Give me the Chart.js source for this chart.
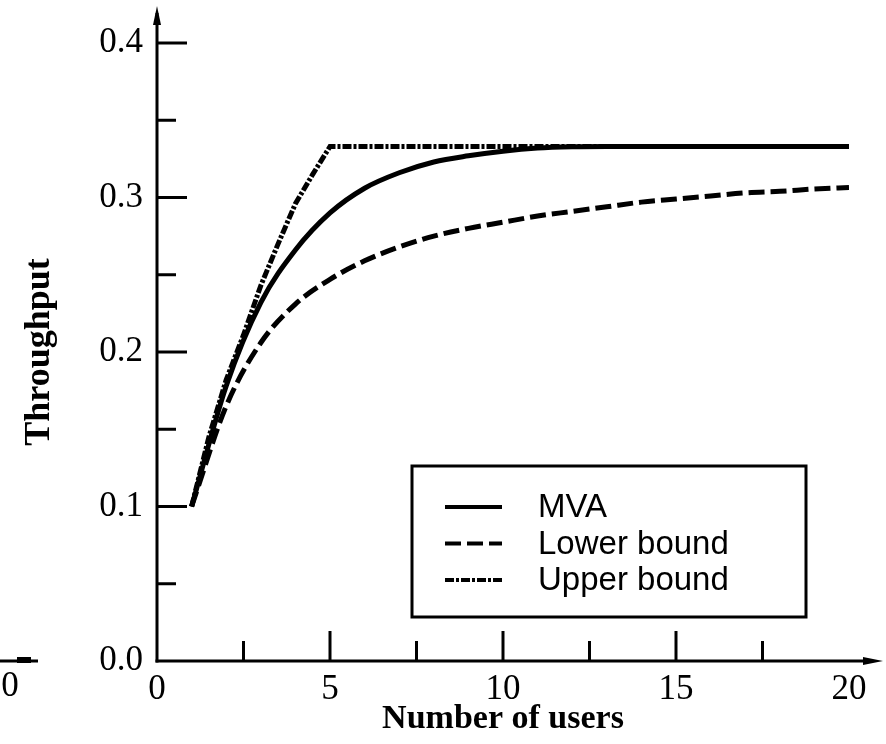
<!DOCTYPE html>
<html lang="en">
<head>
<meta charset="UTF-8" />
<title>Throughput vs number of users</title>
<script src="https://cdn.jsdelivr.net/npm/chart.js@4/dist/chart.umd.min.js"></script>
<style>
  html, body { margin: 0; padding: 0; background: #fff; }
  #wrap { width: 886px; height: 744px; }
</style>
</head>
<body>
<div id="wrap"><canvas id="myChart"></canvas></div>
<script>
// values
const users = [1, 2, 3, 4, 5, 6, 7, 8, 9, 10, 11, 12, 13, 14, 15, 16, 17, 18, 19, 20];
const mva = [0.1, 0.178, 0.232, 0.266, 0.29, 0.306, 0.316, 0.323, 0.327, 0.33, 0.332, 0.3328, 0.333, 0.333, 0.333, 0.333, 0.333, 0.333, 0.333, 0.333];
const lowerBound = [0.1, 0.165, 0.206, 0.231, 0.247, 0.259, 0.268, 0.275, 0.28, 0.284, 0.288, 0.291, 0.294, 0.297, 0.299, 0.301, 0.303, 0.304, 0.3055, 0.3065];
const upperUsers = [1, 1.5, 2, 2.5, 3, 3.5, 4, 4.5, 5, 20];
const upperBound = [0.1, 0.145, 0.182, 0.211, 0.243, 0.27, 0.296, 0.315, 0.333, 0.333];

const xMajor = [5, 10, 15];
const xMinor = [2.5, 7.5, 12.5, 17.5];
const yMajor = [0.1, 0.2, 0.3, 0.4];
const yMinor = [0.05, 0.15, 0.25, 0.35];

const seriesLabels = ["MVA", "Lower bound", "Upper bound"];

const serif = "'Liberation Serif', 'Times New Roman', serif";
const sans = "'Liberation Sans', Arial, sans-serif";

const toPoints = (xs, ys) => xs.map((x, i) => ({ x, y: ys[i] }));

// axis lines with arrows, inward ticks, stray piece of the neighbouring figure
const axesPlugin = {
  id: "axes",
  afterDraw(chart) {
    const { ctx, chartArea: a, scales } = chart;
    ctx.save();
    ctx.fillStyle = "#000";
    ctx.strokeStyle = "#000";
    ctx.lineWidth = 3;
    ctx.lineCap = "butt";

    // y axis
    ctx.beginPath();
    ctx.moveTo(a.left, a.bottom + 1.5);
    ctx.lineTo(a.left, a.top - 30);
    ctx.stroke();
    ctx.beginPath();
    ctx.moveTo(a.left, a.top - 37);
    ctx.lineTo(a.left + 4, a.top - 18);
    ctx.lineTo(a.left - 4, a.top - 18);
    ctx.closePath();
    ctx.fill();

    // x axis
    ctx.beginPath();
    ctx.moveTo(a.left - 1.5, a.bottom);
    ctx.lineTo(a.right + 22, a.bottom);
    ctx.stroke();
    ctx.beginPath();
    ctx.moveTo(a.right + 34, a.bottom);
    ctx.lineTo(a.right + 14, a.bottom - 4);
    ctx.lineTo(a.right + 14, a.bottom + 4);
    ctx.closePath();
    ctx.fill();

    // ticks pointing into the plot
    const tick = (x1, y1, x2, y2) => {
      ctx.beginPath();
      ctx.moveTo(x1, y1);
      ctx.lineTo(x2, y2);
      ctx.stroke();
    };
    xMajor.forEach(v => { const px = scales.x.getPixelForValue(v); tick(px, a.bottom, px, a.bottom - 30); });
    xMinor.forEach(v => { const px = scales.x.getPixelForValue(v); tick(px, a.bottom, px, a.bottom - 20); });
    yMajor.forEach(v => { const py = scales.y.getPixelForValue(v); tick(a.left, py, a.left + 30, py); });
    yMinor.forEach(v => { const py = scales.y.getPixelForValue(v); tick(a.left, py, a.left + 19, py); });

    // leftover of the figure next door
    tick(0, a.bottom, 38, a.bottom);
    ctx.fillRect(17, a.bottom - 4, 14, 6);
    ctx.font = "35px " + serif;
    ctx.textAlign = "center";
    ctx.textBaseline = "middle";
    ctx.fillText("0", 10, a.bottom + 26);
    ctx.restore();
  }
};

// boxed legend inside the plot, bottom right
const boxLegend = {
  id: "boxLegend",
  afterDatasetsDraw(chart) {
    const { ctx, chartArea: a } = chart;
    const right = a.right - 43, bottom = a.bottom - 44;
    const w = 394, h = 151;
    const left = right - w, top = bottom - h;
    ctx.save();
    ctx.fillStyle = "#fff";
    ctx.fillRect(left, top, w, h);
    ctx.strokeStyle = "#000";
    ctx.lineWidth = 3;
    ctx.strokeRect(left, top, w, h);
    ctx.font = "33px " + sans;
    ctx.textBaseline = "middle";
    ctx.fillStyle = "#000";
    chart.data.datasets.forEach((ds, i) => {
      const y = top + 41 + i * 36.5;
      ctx.beginPath();
      ctx.setLineDash(ds.borderDash || []);
      ctx.lineWidth = 4;
      ctx.moveTo(left + 33, y);
      ctx.lineTo(left + 90, y);
      ctx.stroke();
      ctx.setLineDash([]);
      ctx.fillText(ds.label, left + 126, y + 1);
    });
    ctx.restore();
  }
};

const ctx = document.getElementById("myChart").getContext("2d");

new Chart(ctx, {
  type: "line",
  data: {
    datasets: [
      {
        label: seriesLabels[0],
        data: toPoints(users, mva),
        borderColor: "#000",
        borderWidth: 5,
        cubicInterpolationMode: "monotone",
        pointRadius: 0
      },
      {
        label: seriesLabels[1],
        data: toPoints(users, lowerBound),
        borderColor: "#000",
        borderWidth: 5,
        borderDash: [16, 6],
        cubicInterpolationMode: "monotone",
        pointRadius: 0
      },
      {
        label: seriesLabels[2],
        data: toPoints(upperUsers, upperBound),
        borderColor: "#000",
        borderWidth: 5,
        borderDash: [9, 2, 3, 2],
        tension: 0,
        pointRadius: 0
      }
    ]
  },
  options: {
    responsive: true,
    maintainAspectRatio: false,
    animation: false,
    layout: { padding: { top: 43, right: 37, left: 0, bottom: 0 } },
    plugins: {
      legend: { display: false },
      tooltip: { enabled: false }
    },
    scales: {
      x: {
        type: "linear",
        min: 0,
        max: 20,
        afterFit(scale) { scale.height = 83; },
        grid: { display: false },
        border: { display: false },
        ticks: { stepSize: 5, padding: 0, color: "#000", font: { family: serif, size: 35 } },
        title: {
          display: true,
          text: "Number of users",
          color: "#000",
          font: { family: serif, size: 34, weight: "bold" },
          padding: { top: 0, bottom: 4 }
        }
      },
      y: {
        min: 0,
        max: 0.4,
        afterFit(scale) { scale.width = 157; },
        grid: { display: false },
        border: { display: false },
        ticks: {
          stepSize: 0.1,
          padding: 6,
          color: "#000",
          font: { family: serif, size: 35 },
          callback: v => v.toFixed(1)
        },
        title: {
          display: true,
          text: "Throughput",
          color: "#000",
          font: { family: serif, size: 36, weight: "bold" },
          padding: { top: 18, bottom: 0 }
        }
      }
    }
  },
  plugins: [axesPlugin, boxLegend]
});
</script>
</body>
</html>
